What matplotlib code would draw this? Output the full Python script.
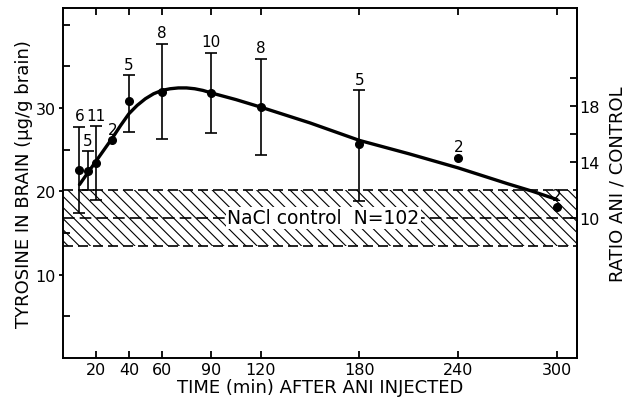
import matplotlib
matplotlib.use("Agg")
import matplotlib.pyplot as plt
import numpy as np

# ---- data ----
time_pts = [10, 15, 20, 30, 40, 60, 90, 120, 180, 240, 300]
tyr_mean = [22.6, 22.4, 23.4, 26.1, 30.8, 31.9, 31.8, 30.1, 25.7, 24.0, 18.1]
err_high = [27.7, 24.8, 27.8, np.nan, 33.9, 37.7, 36.6, 35.9, 32.1, np.nan, np.nan]
err_low = [17.4, 20.2, 19.0, np.nan, 27.1, 26.3, 27.0, 24.3, 18.8, np.nan, np.nan]
n_labels = ["6", "5", "11", "2", "5", "8", "10", "8", "5", "2", "2"]

curve_t = [10, 15, 20, 25, 30, 35, 40, 45, 50, 55, 60, 65, 70, 75, 80, 85, 90,
           105, 120, 150, 180, 210, 240, 270, 285, 300]
curve_y = [20.8, 22.2, 23.6, 25.0, 26.4, 27.9, 29.3, 30.3, 31.1, 31.7, 32.1, 32.3,
           32.4, 32.4, 32.3, 32.1, 31.8, 31.0, 30.1, 28.2, 26.1, 24.5, 22.8, 20.9,
           20.0, 19.0]

control_mean = 16.8
control_low = 13.4
control_high = 20.1
control_label = "NaCl control  N=102"

x_ticks = [20, 40, 60, 90, 120, 180, 240, 300]
y_major = [10, 20, 30]
y_minor = [5, 15, 25, 35, 40]
ratio_ticks = [1.0, 1.4, 1.8]
ratio_labels = ["10", "14", "18"]
ratio_minor = [1.6, 2.0]

plt.rcParams['font.family'] = ['DejaVu Sans']
plt.rcParams['hatch.linewidth'] = 0.8

fig = plt.figure(figsize=(6.27, 4.06), dpi=100)
ax = fig.add_axes([0.1005, 0.116, 0.8195, 0.862])
ax.set_xlim(0, 312)
ax.set_ylim(0, 42)

# control band
ax.fill_between([0, 312], control_low, control_high, facecolor='none',
                edgecolor='black', hatch='\\\\\\', linewidth=0)
for yv in (control_low, control_high):
    ax.axhline(yv, color='black', lw=1.2, dashes=(6, 3))
ax.axhline(control_mean, color='black', lw=1.2, dashes=(7, 3))
ax.text(158, control_mean, control_label, fontsize=13.5, va='center', ha='center',
        bbox=dict(facecolor='white', edgecolor='none', pad=1.0), zorder=4)

# fitted curve
ax.plot(curve_t, curve_y, color='black', lw=2.4, solid_capstyle='round', zorder=5)

# points with error bars
tm = np.array(tyr_mean)
eh = np.array(err_high)
el = np.array(err_low)
has = ~np.isnan(eh)
ax.errorbar(np.array(time_pts)[has], tm[has],
            yerr=[tm[has] - el[has], eh[has] - tm[has]],
            fmt='none', ecolor='black', elinewidth=1.2, capsize=4, capthick=1.2, zorder=6)
ax.plot(time_pts, tyr_mean, 'o', color='black', ms=5.5, zorder=7)

for t, m, h, lab in zip(time_pts, tyr_mean, err_high, n_labels):
    top = h if not np.isnan(h) else m
    ax.annotate(lab, (t, top), xytext=(0, 8), textcoords='offset points',
                ha='center', va='center', fontsize=11, zorder=8)

# axes styling
for s in ax.spines.values():
    s.set_linewidth(1.4)
ax.set_xticks(x_ticks)
ax.set_yticks(y_major)
ax.set_yticks(y_minor, minor=True)
ax.tick_params(axis='x', which='major', direction='in', length=5, width=1.3,
               top=True, labelsize=11.5, pad=3)
ax.tick_params(axis='y', which='major', direction='out', length=3, width=1.3,
               labelsize=11.5, pad=2)
ax.tick_params(axis='y', which='minor', direction='in', length=5, width=1.3)
ax.set_xlabel("TIME (min) AFTER ANI INJECTED", fontsize=13, labelpad=1)
ax.set_ylabel("TYROSINE IN BRAIN (µg/g brain)", fontsize=13, labelpad=2)

sec = ax.secondary_yaxis('right', functions=(lambda v: v / control_mean,
                                              lambda r: r * control_mean))
sec.set_yticks(ratio_ticks)
sec.set_yticklabels(ratio_labels)
sec.set_yticks(ratio_minor, minor=True)
sec.tick_params(which='both', direction='in', length=5, width=1.3, labelsize=11.5, pad=2)
sec.spines['right'].set_linewidth(1.4)
sec.set_ylabel("RATIO ANI / CONTROL", fontsize=13, labelpad=6)

fig.savefig("out.png", dpi=100)
